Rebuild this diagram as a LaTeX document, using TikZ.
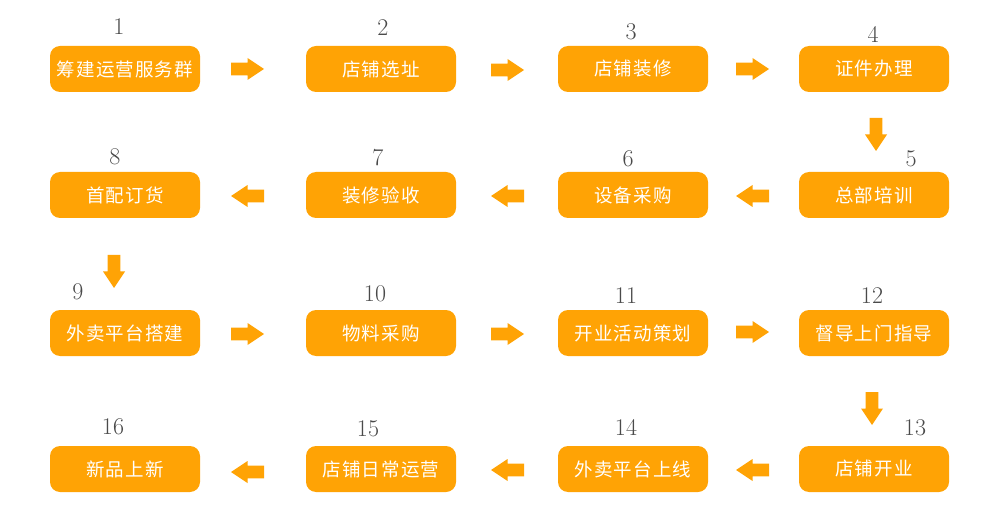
\documentclass[tikz,border=0pt]{standalone}
\usepackage{fontspec}
\newfontfamily\cjk[LetterSpace=6]{Noto Sans CJK SC}
\usetikzlibrary{calc}
\definecolor{boxc}{HTML}{FFA305}
\definecolor{numc}{HTML}{4A4A4A}
\tikzset{
  stepbox/.style={fill=boxc, rounded corners=10pt, minimum width=150pt, minimum height=46pt, inner sep=0pt,
    text=white, font=\cjk\fontsize{18.5}{20}\selectfont},
  numlabel/.style={text=numc, font=\fontsize{24}{26}\selectfont, inner sep=0pt},
  barrow/.pic={\fill[boxc] (-16.5,-6.4) -- (0,-6.4) -- (0,-11) -- (16.5,0) -- (0,11) -- (0,6.4) -- (-16.5,6.4) -- cycle;}
}
\begin{document}
\begin{tikzpicture}[x=1pt,y=-1pt]
\useasboundingbox (0,0) rectangle (1000,510);
% boxes
\node[stepbox] (b1) at (125,69) {筹建运营服务群};
\node[stepbox] (b2) at (381,69) {店铺选址};
\node[stepbox] (b3) at (633,69) {店铺装修};
\node[stepbox] (b4) at (874,69) {证件办理};
\node[stepbox] (b5) at (874,195) {总部培训};
\node[stepbox] (b6) at (633,195) {设备采购};
\node[stepbox] (b7) at (381,195) {装修验收};
\node[stepbox] (b8) at (125,195) {首配订货};
\node[stepbox] (b9) at (125,333) {外卖平台搭建};
\node[stepbox] (b10) at (381,333) {物料采购};
\node[stepbox] (b11) at (633,333) {开业活动策划};
\node[stepbox] (b12) at (874,333) {督导上门指导};
\node[stepbox] (b13) at (874,469) {店铺开业};
\node[stepbox] (b14) at (633,469) {外卖平台上线};
\node[stepbox] (b15) at (381,469) {店铺日常运营};
\node[stepbox] (b16) at (125,469) {新品上新};
% numbers
\node[numlabel] (n1) at (119,27) {1};
\node[numlabel] (n2) at (383,28) {2};
\node[numlabel] (n3) at (631,32) {3};
\node[numlabel] (n4) at (873,34) {4};
\node[numlabel] (n5) at (911,159) {5};
\node[numlabel] (n6) at (628,159) {6};
\node[numlabel] (n7) at (378,158) {7};
\node[numlabel] (n8) at (115,157) {8};
\node[numlabel] (n9) at (78,292) {9};
\node[numlabel] (n10) at (375,294) {10};
\node[numlabel] (n11) at (626,296) {11};
\node[numlabel] (n12) at (872,296) {12};
\node[numlabel] (n13) at (915,428) {13};
\node[numlabel] (n14) at (626,427) {14};
\node[numlabel] (n15) at (368,429) {15};
\node[numlabel] (n16) at (113,427) {16};
% arrows row 1 (right)
\pic at ($(b1.east)!0.5!(b2.west)+(-5.5,0)$) {barrow};
\pic at ($(b2.east)!0.5!(b3.west)+(0.5,1)$) {barrow};
\pic at ($(b3.east)!0.5!(b4.west)+(-1,0)$) {barrow};
% down 4->5
\pic[rotate=-90] at ($(b4.south)!0.5!(b5.north)+(2,2.5)$) {barrow};
% row 2 (left)
\pic[rotate=180] at ($(b5.west)!0.5!(b6.east)+(-1,1)$) {barrow};
\pic[rotate=180] at ($(b6.west)!0.5!(b7.east)+(0.5,1)$) {barrow};
\pic[rotate=180] at ($(b7.west)!0.5!(b8.east)+(-5.5,1)$) {barrow};
% down 8->9
\pic[rotate=-90] at ($(b8.south)!0.5!(b9.north)+(-11,7.5)$) {barrow};
% row 3 (right)
\pic at ($(b9.east)!0.5!(b10.west)+(-5.5,1)$) {barrow};
\pic at ($(b10.east)!0.5!(b11.west)+(0.5,1)$) {barrow};
\pic at ($(b11.east)!0.5!(b12.west)+(-1,-1)$) {barrow};
% down 12->13
\pic[rotate=-90] at ($(b12.south)!0.5!(b13.north)+(-2,7.5)$) {barrow};
% row 4 (left)
\pic[rotate=180] at ($(b13.west)!0.5!(b14.east)+(-1,1)$) {barrow};
\pic[rotate=180] at ($(b14.west)!0.5!(b15.east)+(0.5,1)$) {barrow};
\pic[rotate=180] at ($(b15.west)!0.5!(b16.east)+(-5.5,3)$) {barrow};
\end{tikzpicture}
\end{document}
